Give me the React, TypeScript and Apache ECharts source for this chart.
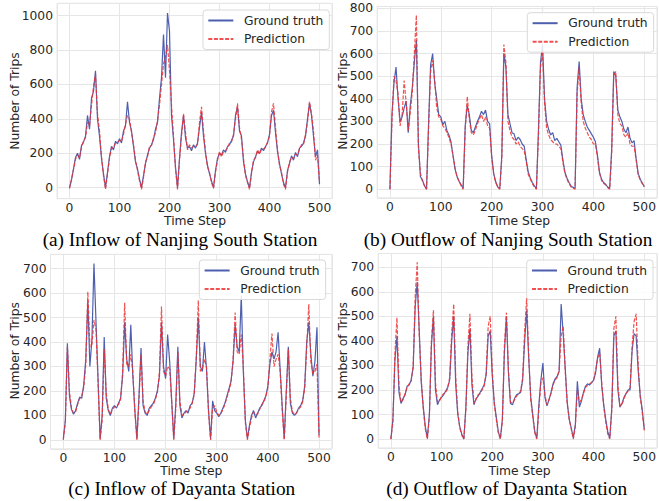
import React, { useEffect, useRef } from "react";
import * as echarts from "echarts";

// Sampling of the time axis (one value read every 4 time steps)
const SAMPLE_STEP = 4;

// (a) Inflow of Nanjing South Station
const inflowNanjingTruth = [
  0, 45, 110, 175, 200, 165, 245, 265, 300, 420, 340, 520, 560, 680, 400, 300, 170, 80,
  0, 90, 180, 240, 220, 270, 255, 285, 260, 330, 360, 500, 380, 330, 240, 150, 110, 50,
  0, 70, 140, 190, 230, 250, 280, 340, 380, 520, 640, 890, 640, 1015, 910, 420, 280, 120,
  0, 170, 320, 420, 290, 230, 240, 215, 250, 230, 260, 350, 440, 300, 200, 130, 80, 40,
  0, 100, 170, 200, 190, 220, 205, 240, 250, 275, 300, 420, 470, 330, 300, 150, 80, 35,
  0, 90, 150, 180, 210, 200, 230, 215, 240, 260, 310, 420, 450, 320, 210, 140, 80, 30,
  0, 100, 140, 185, 160, 205, 180, 230, 240, 260, 300, 400, 490, 420, 300, 180, 220, 20,
];
const inflowNanjingPred = [
  -5, 50, 105, 165, 190, 175, 235, 270, 290, 380, 360, 480, 590, 660, 430, 330, 180, 70,
  -10, 80, 170, 230, 235, 260, 265, 275, 270, 310, 370, 420, 400, 320, 250, 160, 100, 40,
  -10, 60, 150, 180, 240, 245, 290, 320, 390, 480, 600, 720, 760, 830, 680, 480, 300, 110,
  -10, 160, 300, 430, 320, 220, 250, 230, 240, 240, 250, 380, 470, 330, 210, 120, 90, 30,
  -5, 90, 160, 210, 180, 210, 215, 230, 260, 265, 310, 400, 490, 350, 280, 170, 70, 30,
  -10, 80, 160, 175, 220, 195, 225, 225, 235, 265, 300, 440, 490, 350, 220, 130, 90, 20,
  -10, 90, 150, 175, 170, 195, 190, 225, 250, 250, 310, 380, 500, 430, 330, 160, 190, 30,
];

// (b) Outflow of Nanjing South Station
const outflowNanjingTruth = [
  0, 330, 470, 540, 400, 300, 320, 360, 390, 250, 370, 450, 560, 660, 200, 55, 40, 15,
  0, 290, 550, 600, 470, 400, 330, 320, 285, 300, 260, 240, 210, 150, 90, 55, 35, 20,
  5, 280, 370, 330, 260, 250, 275, 300, 320, 345, 330, 350, 300, 290, 150, 70, 33, 10,
  3, 150, 600, 540, 330, 290, 250, 245, 215, 230, 220, 200, 190, 130, 75, 50, 30, 15,
  3, 260, 560, 640, 400, 300, 265, 240, 250, 215, 225, 210, 195, 130, 75, 50, 30, 15,
  8, 5, 450, 565, 400, 330, 300, 275, 260, 245, 230, 210, 150, 75, 45, 30, 22, 10,
  3, 180, 520, 500, 350, 320, 300, 265, 250, 275, 225, 205, 215, 135, 70, 45, 28, 12,
];
const outflowNanjingPred = [
  0, 300, 500, 480, 420, 280, 330, 480, 380, 260, 340, 430, 600, 770, 180, 70, 35, 15,
  0, 270, 520, 570, 480, 360, 320, 310, 280, 270, 250, 230, 200, 150, 95, 55, 35, 15,
  0, 260, 410, 310, 250, 240, 260, 290, 310, 330, 300, 320, 280, 270, 140, 65, 30, 10,
  0, 140, 640, 560, 300, 260, 230, 220, 200, 210, 190, 180, 170, 120, 65, 45, 25, 10,
  0, 240, 540, 610, 380, 270, 240, 220, 210, 200, 200, 190, 180, 120, 70, 45, 25, 10,
  5, 0, 420, 540, 380, 300, 270, 250, 230, 220, 200, 200, 140, 70, 40, 25, 20, 8,
  0, 160, 500, 520, 330, 290, 280, 240, 230, 250, 200, 190, 190, 130, 65, 40, 25, 10,
];

// (c) Inflow of Dayanta Station
const inflowDayantaTruth = [
  5, 80, 395, 180, 125, 105, 120, 150, 175, 170, 225, 330, 570, 300, 410, 720, 480, 250,
  5, 100, 420, 170, 120, 100, 130, 140, 130, 150, 170, 260, 480, 330, 280, 470, 260, 120,
  5, 180, 375, 140, 110, 100, 130, 140, 150, 170, 200, 260, 480, 300, 250, 430, 320, 160,
  5, 150, 380, 140, 90, 110, 120, 110, 140, 150, 190, 330, 500, 300, 280, 400, 290, 120,
  5, 160, 120, 110, 95, 110, 130, 150, 180, 210, 240, 320, 470, 380, 360, 590, 280, 80,
  5, 60, 100, 120, 90, 110, 130, 140, 160, 180, 220, 310, 360, 330, 360, 440, 290, 140,
  5, 200, 380, 150, 110, 100, 110, 130, 140, 160, 220, 400, 480, 350, 260, 320, 460, 20,
];
const inflowDayantaPred = [
  0, 70, 380, 200, 130, 110, 115, 145, 170, 180, 215, 310, 605, 380, 390, 490, 450, 230,
  0, 80, 370, 190, 125, 105, 125, 135, 140, 145, 165, 280, 560, 310, 300, 350, 280, 110,
  0, 160, 350, 160, 115, 105, 120, 135, 145, 165, 195, 280, 545, 280, 260, 300, 290, 150,
  0, 130, 360, 160, 100, 105, 115, 120, 130, 150, 185, 340, 570, 280, 290, 330, 300, 110,
  0, 130, 140, 115, 100, 105, 125, 145, 175, 200, 235, 330, 520, 360, 350, 430, 300, 70,
  0, 50, 90, 115, 105, 105, 125, 145, 155, 175, 215, 330, 435, 300, 330, 350, 280, 120,
  0, 180, 370, 170, 115, 105, 110, 125, 135, 155, 210, 380, 555, 320, 270, 280, 310, 10,
];

// (d) Outflow of Dayanta Station
const outflowDayantaTruth = [
  0, 80, 320, 420, 190, 145, 165, 180, 215, 220, 240, 290, 540, 640, 440, 230, 130, 50,
  5, 100, 380, 500, 200, 140, 160, 170, 180, 195, 210, 240, 400, 500, 220, 100, 50, 20,
  0, 130, 350, 450, 220, 140, 165, 175, 190, 205, 220, 260, 420, 440, 260, 150, 90, 30,
  3, 80, 350, 500, 270, 145, 140, 165, 180, 185, 190, 240, 400, 525, 330, 170, 100, 30,
  3, 140, 240, 310, 170, 135, 160, 190, 225, 245, 255, 275, 550, 430, 290, 150, 80, 45,
  5, 60, 235, 130, 155, 190, 215, 225, 220, 230, 240, 270, 335, 370, 220, 140, 80, 30,
  3, 130, 420, 440, 200, 130, 145, 170, 185, 200, 200, 360, 430, 420, 280, 180, 120, 40,
];
const outflowDayantaPred = [
  0, 70, 350, 495, 220, 150, 160, 185, 210, 225, 235, 300, 580, 720, 420, 240, 120, 40,
  0, 90, 400, 525, 230, 150, 155, 175, 185, 190, 205, 250, 430, 550, 250, 110, 45, 15,
  0, 120, 380, 510, 250, 145, 160, 180, 185, 200, 215, 270, 460, 500, 280, 140, 80, 25,
  0, 70, 380, 515, 280, 150, 145, 160, 175, 185, 195, 250, 440, 575, 340, 160, 90, 25,
  0, 120, 230, 250, 180, 140, 160, 185, 220, 240, 250, 280, 420, 460, 280, 140, 80, 40,
  0, 50, 200, 150, 160, 185, 210, 220, 225, 230, 240, 280, 330, 350, 230, 130, 70, 20,
  0, 120, 450, 500, 220, 135, 140, 165, 185, 195, 210, 380, 480, 510, 300, 170, 110, 35,
];

const captions = [
  "(a) Inflow of Nanjing South Station",
  "(b) Outflow of Nanjing South Station",
  "(c) Inflow of Dayanta Station",
  "(d) Outflow of Dayanta Station",
];
const seriesNames = ["Ground truth", "Prediction"];
const xLabel = "Time Step";
const yLabel = "Number of Trips";

const panels = [
  { truth: inflowNanjingTruth, pred: inflowNanjingPred, yMin: -64, yMax: 1072, split: 5 },
  { truth: outflowNanjingTruth, pred: outflowNanjingPred, yMin: -38, yMax: 808, split: 8 },
  { truth: inflowDayantaTruth, pred: inflowDayantaPred, yMin: -36, yMax: 758, split: 8 },
  { truth: outflowDayantaTruth, pred: outflowDayantaPred, yMin: -36, yMax: 756, split: 8 },
];

// layout (pixels)
const grids = [
  { left: 57, top: 3.3, width: 275, height: 195.4 },
  { left: 377.2, top: 6.45, width: 282, height: 191.4 },
  { left: 50.5, top: 254.3, width: 281.3, height: 194.5 },
  { left: 378.2, top: 253.5, width: 281.3, height: 194.4 },
];
const legendPos = [
  { left: 203, top: 10 },
  { left: 527.3, top: 12.7 },
  { left: 199.3, top: 260 },
  { left: 526.7, top: 260 },
];
const yNamePos = [
  [15, 101],
  [342.8, 101],
  [14.7, 350.8],
  [342.8, 350.8],
];
const xNamePos = [
  [195, 220.5],
  [519, 220.5],
  [191.3, 470.5],
  [519.5, 470.5],
];
const captionPos = [
  [180, 239.5],
  [508, 239.5],
  [181.7, 488.8],
  [506.7, 488.8],
];

const SANS = "DejaVu Sans";
const SERIF = "Liberation Serif";
const TEXT = "#262626";
const GRID = "#e6e6e6";
const BLUE = "#3b4ea6";
const RED = "#ee3333";
const FS = 12.3;

const toPairs = (vals: number[]) => vals.map((v, i) => [i * SAMPLE_STEP, v]);

export default function App() {
  const ref = useRef<HTMLDivElement>(null);
  useEffect(() => {
    if (!ref.current) return;
    const chart = echarts.init(ref.current, undefined, { renderer: "svg" });

    const labelStyle = {
      showMinLabel: false,
      showMaxLabel: false,
      color: TEXT,
      fontFamily: SANS,
      fontSize: FS,
      formatter: (v: number) => String(v),
    };

    const xAxis = panels.map((_, i) => ({
      type: "value",
      gridIndex: i,
      min: -25,
      max: 525,
      splitNumber: 5,
      axisLine: { show: false },
      axisTick: { show: false },
      axisLabel: { ...labelStyle, margin: 3 },
      splitLine: { show: true, lineStyle: { color: GRID, width: 1 } },
    }));
    const yAxis = panels.map((p, i) => ({
      type: "value",
      gridIndex: i,
      min: p.yMin,
      max: p.yMax,
      splitNumber: p.split,
      axisLine: { show: false },
      axisTick: { show: false },
      axisLabel: { ...labelStyle, margin: 4 },
      splitLine: { show: true, lineStyle: { color: GRID, width: 1 } },
    }));

    const series: any[] = [];
    panels.forEach((p, i) => {
      series.push({
        name: seriesNames[0],
        type: "line",
        xAxisIndex: i,
        yAxisIndex: i,
        data: toPairs(p.truth),
        symbol: "none",
        lineStyle: { color: BLUE, width: 1.2, opacity: 0.9 },
        itemStyle: { color: BLUE },
      });
      series.push({
        name: seriesNames[1],
        type: "line",
        xAxisIndex: i,
        yAxisIndex: i,
        data: toPairs(p.pred),
        symbol: "none",
        lineStyle: { color: RED, width: 1.2, type: [4, 1.6], opacity: 0.85 },
        itemStyle: { color: RED },
      });
    });

    const legend = legendPos.map((lp) => ({
      left: lp.left,
      top: lp.top,
      orient: "vertical",
      data: seriesNames,
      itemWidth: 25,
      itemHeight: 15,
      itemGap: 3.5,
      padding: [3, 6, 3, 4.3],
      backgroundColor: "rgba(255,255,255,0.85)",
      borderColor: "#d9d9d9",
      borderWidth: 1,
      borderRadius: 3,
      selectedMode: false,
      itemStyle: { opacity: 0 },
      textStyle: {
        color: TEXT,
        fontFamily: SANS,
        fontSize: FS,
        lineHeight: 15,
        padding: [0, 0, 0, 5.6],
      },
    }));

    const graphic: any[] = [];
    for (let i = 0; i < 4; i++) {
      graphic.push({
        type: "text",
        x: yNamePos[i][0],
        y: yNamePos[i][1],
        rotation: Math.PI / 2,
        style: {
          text: yLabel,
          fill: TEXT,
          font: `${FS}px "${SANS}"`,
          align: "center",
          verticalAlign: "middle",
        },
      });
      graphic.push({
        type: "text",
        x: xNamePos[i][0],
        y: xNamePos[i][1],
        style: {
          text: xLabel,
          fill: TEXT,
          font: `${FS}px "${SANS}"`,
          align: "center",
          verticalAlign: "middle",
        },
      });
      graphic.push({
        type: "text",
        x: captionPos[i][0],
        y: captionPos[i][1],
        style: {
          text: captions[i],
          fill: "#000000",
          font: `19.3px "${SERIF}"`,
          align: "center",
          verticalAlign: "middle",
        },
      });
    }

    chart.setOption({
      animation: false,
      backgroundColor: "#ffffff",
      grid: grids.map((g) => ({
        ...g,
        show: true,
        borderColor: GRID,
        borderWidth: 1,
        backgroundColor: "transparent",
        containLabel: false,
      })),
      xAxis,
      yAxis,
      legend,
      series,
      graphic,
    });
    return () => chart.dispose();
  }, []);
  return (
    <div
      ref={ref}
      style={{ position: "absolute", left: 0, top: 0, width: 659, height: 501 }}
    />
  );
}
